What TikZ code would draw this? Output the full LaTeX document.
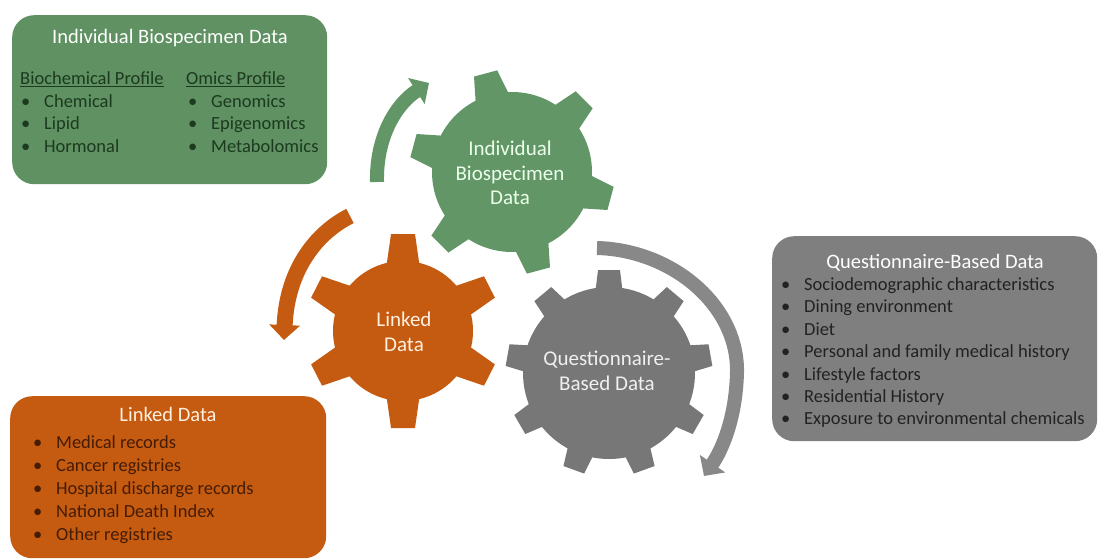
\documentclass[tikz,border=0pt]{standalone}
\usepackage{fontspec}
\setmainfont{Carlito}
\usetikzlibrary{
    arrows.meta,
    positioning
}

\definecolor{gearGreen}{HTML}{629666}
\definecolor{boxGreen}{HTML}{5F9163}
\definecolor{bioText}{HTML}{1C3A1E}
\definecolor{gearOrange}{HTML}{C55A11}
\definecolor{linkText}{HTML}{451C04}
\definecolor{gearGray}{HTML}{777777}
\definecolor{boxGray}{HTML}{7F7F7F}
\definecolor{arrowGray}{HTML}{888888}
\definecolor{questText}{HTML}{222222}

\newcommand{\itembul}{\makebox[23pt][l]{\textbullet}}

% colour, centre, body radius, tip radius, base half width, tip half width, tooth angles
\newcommand{\drawgear}[7]{%
    \fill[#1] #2 circle[radius=#3];
    \foreach \a in {#7}
        \fill[#1, shift={#2}, rotate=\a] (#3-8, -#5) -- (#4, -#6) -- (#4, #6) -- (#3-8, #5) -- cycle;
}

\tikzset{
    databox/.style={rounded corners=22pt, inner sep=0pt, anchor=north west},
    boxtitle/.style={anchor=base, inner sep=0pt, font=\fontsize{20.5}{24}\selectfont},
    boxitem/.style={anchor=base west, inner sep=0pt, font=\fontsize{18.5}{22.5}\selectfont},
    gearlabel/.style={align=center, inner sep=0pt, font=\fontsize{21}{24.5}\selectfont},
    turnarrow/.style={line width=14pt, -{Triangle[width=30pt,length=15pt]}}
}

\begin{document}
\begin{tikzpicture}[x=1pt, y=-1pt]
    \useasboundingbox (0,0) rectangle (1099,559);

    % gears
    \drawgear{gearGreen}{(512,172)}{80}{102}{18}{12}{105,45,-15,-75,-135,165}
    \drawgear{gearOrange}{(403,331)}{70}{97}{17}{12}{90,27,-27,-90,-153,153}
    \drawgear{gearGray}{(609,373)}{86}{103}{14}{11}{90,50,10,-30,-70,-110,-150,170,130}

    \node[gearlabel, text=green!8!white] (bioGear) at (510,173) {Individual\\Biospecimen\\Data};
    \node[gearlabel, text=orange!12!white] (linkGear) at (404,332) {Linked\\Data};
    \node[gearlabel, text=white!94!black] (questGear) at (607,371) {Questionnaire-\\Based Data};

    % turning arrows
    \draw[turnarrow, gearGreen] (377,182) .. controls (376,137) and (396,104) .. (429,83);
    \draw[turnarrow, gearOrange, line width=16pt] (350,216) .. controls (318,232) and (287,268) .. (284,340);
    \draw[turnarrow, arrowGray] (597,248) .. controls (672,250) and (738,305) .. (737,372) .. controls (736,418) and (722,450) .. (704,476);

    % biospecimen box
    \node[databox, fill=boxGreen, minimum width=315pt, minimum height=169pt] (bioBox) at (12,15) {};
    \node[boxtitle, text=white] (bioTitle) at (170,44) {Individual Biospecimen Data};
    \node[boxitem, text=bioText] (bioChemHead) at (20,85) {\underline{Biochemical Profile}};
    \node[boxitem, text=bioText] (bioOmicsHead) at (186,85) {\underline{Omics Profile}};
    \node[boxitem, text=bioText] (bioChemical) at (21,107) {\itembul Chemical};
    \node[boxitem, text=bioText] (bioLipid) at (21,129) {\itembul Lipid};
    \node[boxitem, text=bioText] (bioHormonal) at (21,152) {\itembul Hormonal};
    \node[boxitem, text=bioText] (bioGenomics) at (188,107) {\itembul Genomics};
    \node[boxitem, text=bioText] (bioEpigenomics) at (188,129) {\itembul Epigenomics};
    \node[boxitem, text=bioText] (bioMetabolomics) at (188,152) {\itembul Metabolomics};

    % questionnaire box
    \node[databox, fill=boxGray, minimum width=325pt, minimum height=205pt] (questBox) at (772,236) {};
    \node[boxtitle, text=white] (questTitle) at (935,268) {Questionnaire-Based Data};
    \node[boxitem, text=questText] (questSocio) at (781,290) {\itembul Sociodemographic characteristics};
    \node[boxitem, text=questText] (questDining) at (781,312) {\itembul Dining environment};
    \node[boxitem, text=questText] (questDiet) at (781,335) {\itembul Diet};
    \node[boxitem, text=questText] (questHistory) at (781,357) {\itembul Personal and family medical history};
    \node[boxitem, text=questText] (questLifestyle) at (781,380) {\itembul Lifestyle factors};
    \node[boxitem, text=questText] (questResidence) at (781,402) {\itembul Residential History};
    \node[boxitem, text=questText] (questExposure) at (781,424) {\itembul Exposure to environmental chemicals};

    % linked data box
    \node[databox, fill=gearOrange, minimum width=316pt, minimum height=162pt] (linkBox) at (10,396) {};
    \node[boxtitle, text=orange!12!white] (linkTitle) at (168,421) {Linked Data};
    \node[boxitem, text=linkText] (linkMedical) at (33,448) {\itembul Medical records};
    \node[boxitem, text=linkText] (linkCancer) at (33,471) {\itembul Cancer registries};
    \node[boxitem, text=linkText] (linkHospital) at (33,494) {\itembul Hospital discharge records};
    \node[boxitem, text=linkText] (linkDeath) at (33,517) {\itembul National Death Index};
    \node[boxitem, text=linkText] (linkOther) at (33,540) {\itembul Other registries};
\end{tikzpicture}
\end{document}
